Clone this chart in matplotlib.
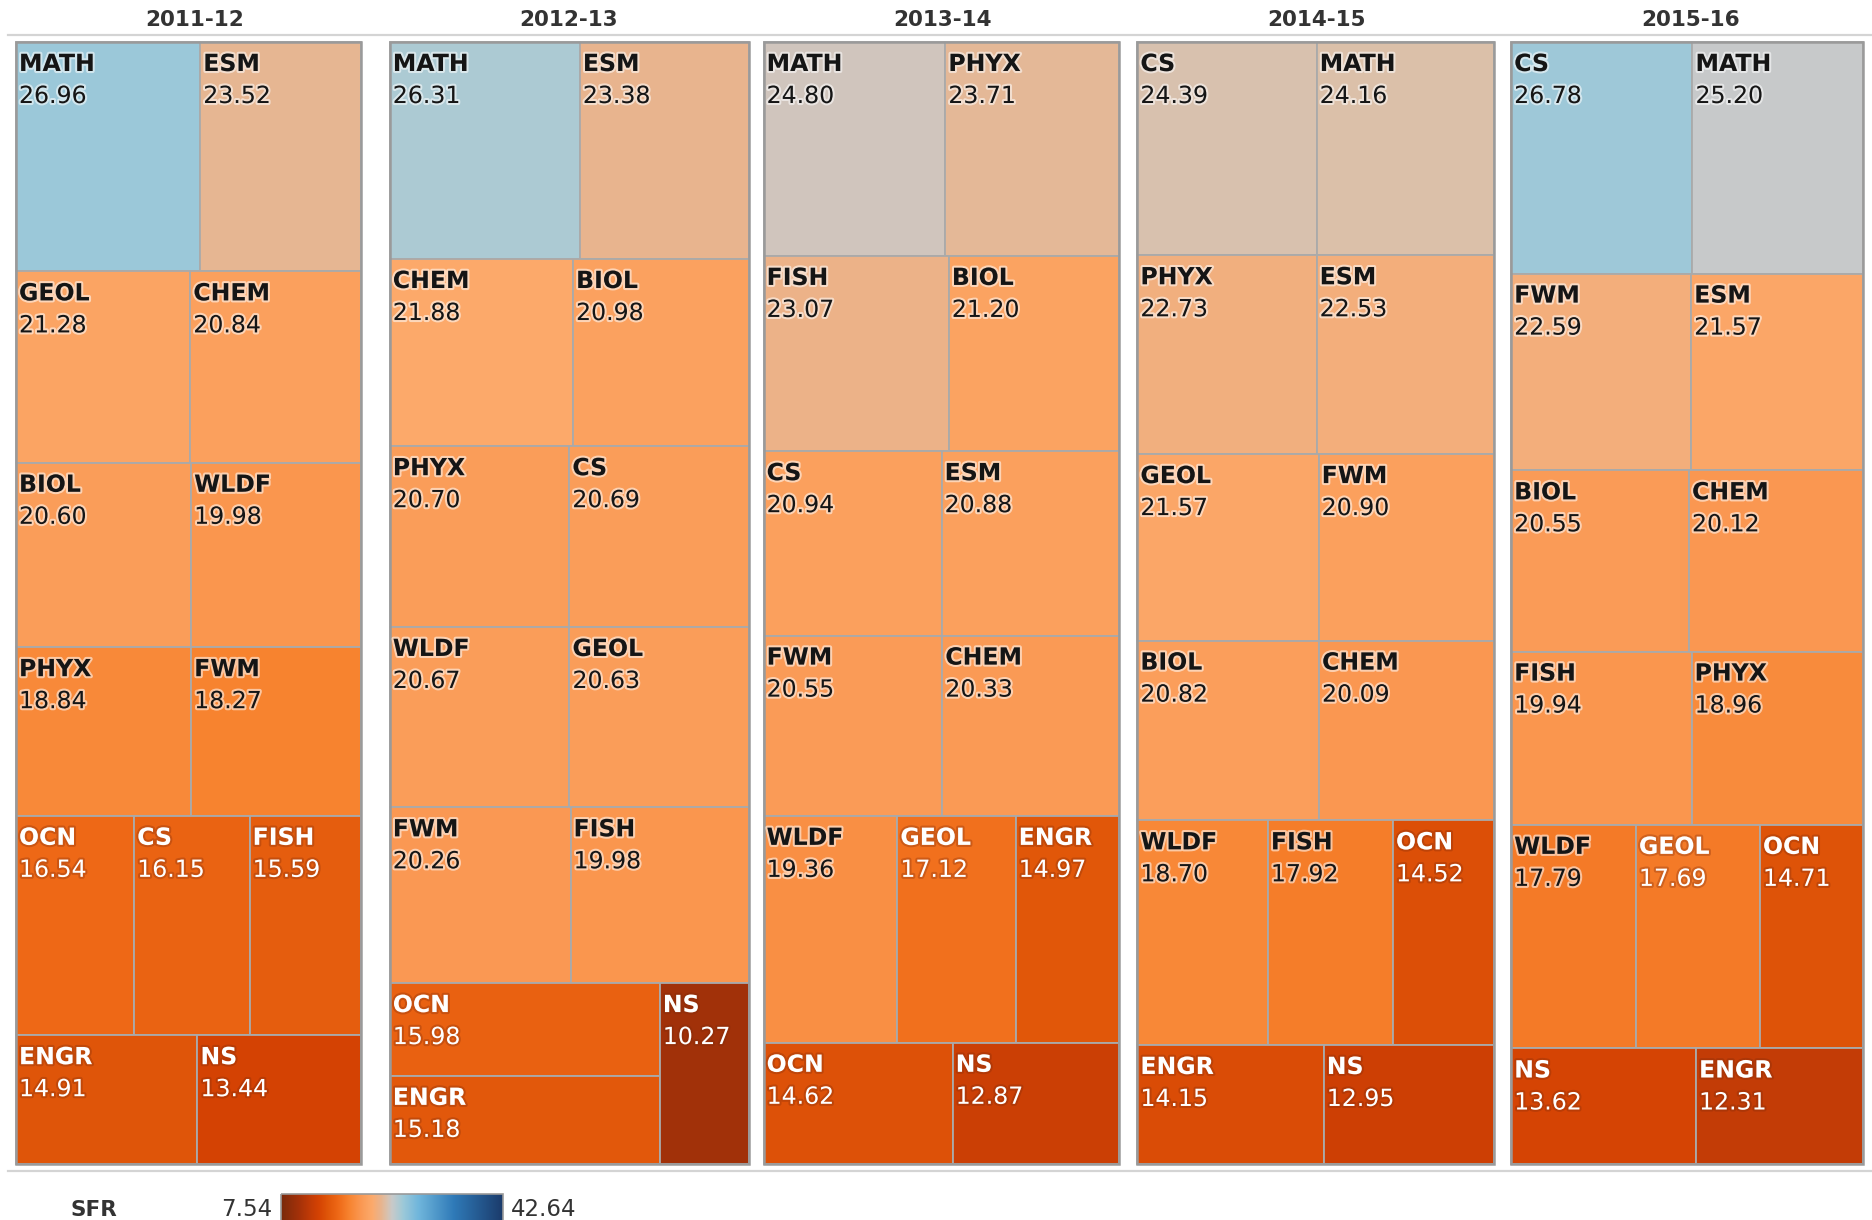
import matplotlib
matplotlib.use('Agg')
import matplotlib.pyplot as plt
import matplotlib.patheffects as pe
from matplotlib.colors import LinearSegmentedColormap, Normalize
from matplotlib.patches import Rectangle
import numpy as np

# -------------------------------------------------------------------------------------------------
# Data: student/faculty ratio (SFR) per department and academic year

years = ['2011-12', '2012-13', '2013-14', '2014-15', '2015-16']

depts_1112 = ['MATH', 'ESM', 'GEOL', 'CHEM', 'BIOL', 'WLDF', 'PHYX', 'FWM', 'OCN', 'CS', 'FISH', 'ENGR', 'NS']
sfr_1112 = [26.96, 23.52, 21.28, 20.84, 20.60, 19.98, 18.84, 18.27, 16.54, 16.15, 15.59, 14.91, 13.44]

depts_1213 = ['MATH', 'ESM', 'CHEM', 'BIOL', 'PHYX', 'CS', 'WLDF', 'GEOL', 'FWM', 'FISH', 'OCN', 'ENGR', 'NS']
sfr_1213 = [26.31, 23.38, 21.88, 20.98, 20.70, 20.69, 20.67, 20.63, 20.26, 19.98, 15.98, 15.18, 10.27]

depts_1314 = ['MATH', 'PHYX', 'FISH', 'BIOL', 'CS', 'ESM', 'FWM', 'CHEM', 'WLDF', 'GEOL', 'ENGR', 'OCN', 'NS']
sfr_1314 = [24.80, 23.71, 23.07, 21.20, 20.94, 20.88, 20.55, 20.33, 19.36, 17.12, 14.97, 14.62, 12.87]

depts_1415 = ['CS', 'MATH', 'PHYX', 'ESM', 'GEOL', 'FWM', 'BIOL', 'CHEM', 'WLDF', 'FISH', 'OCN', 'ENGR', 'NS']
sfr_1415 = [24.39, 24.16, 22.73, 22.53, 21.57, 20.90, 20.82, 20.09, 18.70, 17.92, 14.52, 14.15, 12.95]

depts_1516 = ['CS', 'MATH', 'FWM', 'ESM', 'BIOL', 'CHEM', 'FISH', 'PHYX', 'WLDF', 'GEOL', 'OCN', 'NS', 'ENGR']
sfr_1516 = [26.78, 25.20, 22.59, 21.57, 20.55, 20.12, 19.94, 18.96, 17.79, 17.69, 14.71, 13.62, 12.31]

sfr_range = [7.54, 42.64]

# -------------------------------------------------------------------------------------------------
# Layout settings (strips of the treemap: orientation, number of cells)

std_strips = [('h', 2)] * 4 + [('h', 3), ('h', 2)]
strips = [std_strips, [('h', 2)] * 5 + [('v', 2), ('v', 1)], std_strips, std_strips, std_strips]

# Tableau-like orange-blue diverging palette
cmap = LinearSegmentedColormap.from_list('orange_blue', [
    (0.000, '#7a2a0c'), (0.078, '#a33109'), (0.135, '#c43c06'), (0.168, '#d44203'),
    (0.210, '#e05609'), (0.256, '#ee6816'), (0.306, '#f7832f'), (0.354, '#fa964f'),
    (0.392, '#fba463'), (0.412, '#fcaa6c'), (0.429, '#f2ae7c'), (0.451, '#e8b48e'),
    (0.473, '#dcbfa7'), (0.500, '#c9c9c9'), (0.534, '#abcad3'), (0.553, '#9bc8d9'),
    (0.620, '#70b6dc'), (0.780, '#2f7ab8'), (1.000, '#1b3b6b')])
norm = Normalize(sfr_range[0], sfr_range[1])


# Function to split a rectangle into strips of cells sized by value
def treemap(values, x0, y0, x1, y1, strip_list):
    rects = []
    i = 0
    for orient, n in strip_list:
        vals = values[i:i + n]
        s = sum(vals)
        rest = sum(values[i:])
        if orient == 'h':
            h = (y1 - y0) * s / rest
            x = x0
            for v in vals:
                w = (x1 - x0) * v / s
                rects.append((x, y0, w, h))
                x += w
            y0 += h
        else:
            w = (x1 - x0) * s / rest
            y = y0
            for v in vals:
                h = (y1 - y0) * v / s
                rects.append((x0, y, w, h))
                y += h
            x0 += w
        i += n
    return rects


fig = plt.figure(figsize=(18.72, 12.20), dpi=100)
ax = fig.add_axes([0, 0, 1, 1])

all_depts = [depts_1112, depts_1213, depts_1314, depts_1415, depts_1516]
all_sfr = [sfr_1112, sfr_1213, sfr_1314, sfr_1415, sfr_1516]
max_total = max(sum(v) for v in all_sfr)

pane_w = 373.8
top, bottom = 42, 1164
dark_fx = [pe.withStroke(linewidth=3, foreground='white', alpha=0.55)]
light_fx = [pe.withStroke(linewidth=3, foreground='#7a2a0c', alpha=0.3)]

for k, (year, depts, sfr) in enumerate(zip(years, all_depts, all_sfr)):
    left = 16 + k * pane_w
    width = 359 * sum(sfr) / max_total
    ax.text(8 + pane_w * (k + 0.5), 20, year, ha='center', va='center',
            fontsize=15.5, fontweight='bold', color='#333333')
    for name, v, (x, y, w, h) in zip(depts, sfr, treemap(sfr, left, top, left + width, bottom, strips[k])):
        ax.add_patch(Rectangle((x, y), w, h, facecolor=cmap(norm(v)), edgecolor='#aaaaaa', linewidth=1.3))
        if v < 17.75:
            col, fx = 'white', light_fx
        else:
            col, fx = '#151515', dark_fx
        ax.text(x + 3, y + 22, name, ha='left', va='center', fontsize=17, fontweight='bold',
                color=col, path_effects=fx)
        ax.text(x + 3, y + 54, '%.2f' % v, ha='left', va='center', fontsize=17,
                color=col, path_effects=fx)
    ax.add_patch(Rectangle((left, top), width, bottom - top, fill=False, edgecolor='#9a9a9a', linewidth=1.8))

# Header and footer lines
ax.plot([8, 1872], [35, 35], color='#d4d4d4', linewidth=1.6)
ax.plot([8, 1872], [1171, 1171], color='#d4d4d4', linewidth=1.6)

# Color legend
ax.text(70, 1210, 'SFR', ha='left', va='center', fontsize=15.5, fontweight='bold', color='#333333')
ax.text(272, 1210, '%.2f' % sfr_range[0], ha='right', va='center', fontsize=16.5, color='#333333')
ax.text(511, 1210, '%.2f' % sfr_range[1], ha='left', va='center', fontsize=16.5, color='#333333')
gradient = np.linspace(0, 1, 256)[None, :]
ax.imshow(gradient, cmap=cmap, extent=[281, 503, 1222, 1194], aspect='auto')
ax.add_patch(Rectangle((281, 1194), 222, 28, fill=False, edgecolor='#999999', linewidth=1.2))

ax.set_xlim(0, 1872)
ax.set_ylim(1220, 0)
ax.axis('off')
plt.savefig('out.png', dpi=100)
